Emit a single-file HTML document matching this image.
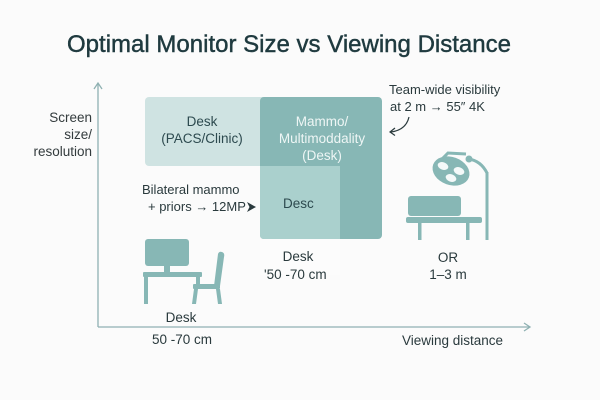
<!DOCTYPE html>
<html><head><meta charset="utf-8"><style>
html,body{margin:0;padding:0;background:#fbfbfb;}
svg{display:block;}
text{font-family:"Liberation Sans",Arial,sans-serif;}
</style></head><body>
<svg width="600" height="400" viewBox="0 0 600 400" xmlns="http://www.w3.org/2000/svg">
<rect width="600" height="400" fill="#fbfbfb"/>
<text x="67" y="52" font-size="24" fill="#1f3a3f" stroke="#1f3a3f" stroke-width="0.45" textLength="444" lengthAdjust="spacingAndGlyphs">Optimal Monitor Size vs Viewing Distance</text>

<!-- axes -->
<g stroke="#8fb1b2" stroke-width="1.3" fill="none">
<line x1="98" y1="83" x2="98" y2="327"/>
<polyline points="94,89 98,83 102,89"/>
<line x1="98" y1="327" x2="530" y2="327"/>
<polyline points="524,323 530,327 524,331"/>
</g>

<!-- y label -->
<g font-size="13.5" fill="#333b3d" text-anchor="end">
<text x="92" y="122">Screen</text>
<text x="92" y="139">size/</text>
<text x="92" y="156">resolution</text>
</g>

<!-- regions -->
<rect x="145" y="97" width="125" height="69" rx="4" fill="#cfe3e2"/>
<rect x="260" y="97" width="122" height="142" rx="4" fill="#87b7b5"/>
<path d="M260,166 H340 V239 H264 Q260,239 260,235 Z" fill="#aad0cd"/>
<rect x="260" y="239" width="80" height="36" fill="#fdfefe" opacity="0.6"/>

<g font-size="13.5" fill="#2d4a4f" text-anchor="middle">
<text x="202" y="126">Desk</text>
<text x="202" y="143">(PACS/Clinic)</text>
</g>
<g font-size="13.5" fill="#eef6f5" text-anchor="middle">
<text x="322" y="126">Mammo/</text>
<text x="322" y="143">Multimoddality</text>
<text x="322" y="160">(Desk)</text>
</g>
<text x="283" y="208" font-size="13.5" fill="#2d4a4f">Desc</text>

<g font-size="13" fill="#2a3a3d">
<text x="142" y="194">Bilateral mammo</text>
<text x="148" y="211">+ priors → 12MP</text>
</g>
<polygon points="247,202 256,207 247,212 249.5,207" fill="#2a3a3d"/>

<!-- annotation -->
<g font-size="13" fill="#2a3a3d">
<text x="389" y="94">Team-wide visibility</text>
<text x="390" y="111">at 2 m → 55″ 4K</text>
</g>
<g stroke="#2a3a3d" stroke-width="1.2" fill="none">
<path d="M409,117 Q406,130 391,132"/>
<polyline points="395,128 390,132 395,135.5"/>
</g>

<!-- desk icon -->
<g fill="#87b7b5">
<rect x="145" y="239" width="44" height="27" rx="3"/>
<rect x="164" y="265" width="6" height="8"/>
<rect x="143" y="272" width="59" height="5" rx="1"/>
<rect x="144" y="276" width="4" height="28"/>
<rect x="196" y="276" width="4" height="10"/>
<path d="M218,254 Q219,251 222,252 Q225,253 224,257 L220,286 L214,286 Z"/>
<rect x="193" y="284" width="27" height="5" rx="1"/>
<path d="M194,289 L198,289 L196,304 L192,304 Z"/>
<path d="M216,289 L220,289 L222,304 L218,304 Z"/>
</g>
<g font-size="13.5" fill="#2a3a3d" text-anchor="middle">
<text x="181" y="322">Desk</text>
<text x="182" y="344">50 -70 cm</text>
<text x="298" y="261">Desk</text>
</g>
<text x="264" y="279" font-size="13.5" fill="#2a3a3d">'50 -70 cm</text>

<!-- OR icon -->
<g fill="#87b7b5">
<ellipse cx="451" cy="171" rx="19" ry="14" transform="rotate(20 451 171)"/>
<rect x="408" y="196" width="53" height="20" rx="3"/>
<rect x="406" y="217" width="76" height="6" rx="2"/>
<rect x="418" y="223" width="3.5" height="17"/>
<rect x="466" y="223" width="3.5" height="17"/>
<circle cx="469" cy="159" r="3.5"/>
</g>
<g stroke="#87b7b5" stroke-width="3" fill="none">
<line x1="487" y1="172" x2="487" y2="240"/>
<path d="M469,159 Q481,161 487,173"/>
<path d="M443,158 L448,153 L466,154"/>
</g>
<g fill="#f4f9f9">
<ellipse cx="443" cy="166" rx="5.5" ry="3.7" transform="rotate(20 443 166)"/>
<ellipse cx="459" cy="171" rx="5.5" ry="3.7" transform="rotate(20 459 171)"/>
<ellipse cx="451" cy="178" rx="5.5" ry="3.7" transform="rotate(20 451 178)"/>
</g>
<g font-size="13.5" fill="#2a3a3d" text-anchor="middle">
<text x="448" y="262">OR</text>
<text x="448" y="279">1–3 m</text>
</g>

<text x="402" y="345" font-size="13.5" fill="#2a3a3d">Viewing distance</text>
</svg>
</body></html>
